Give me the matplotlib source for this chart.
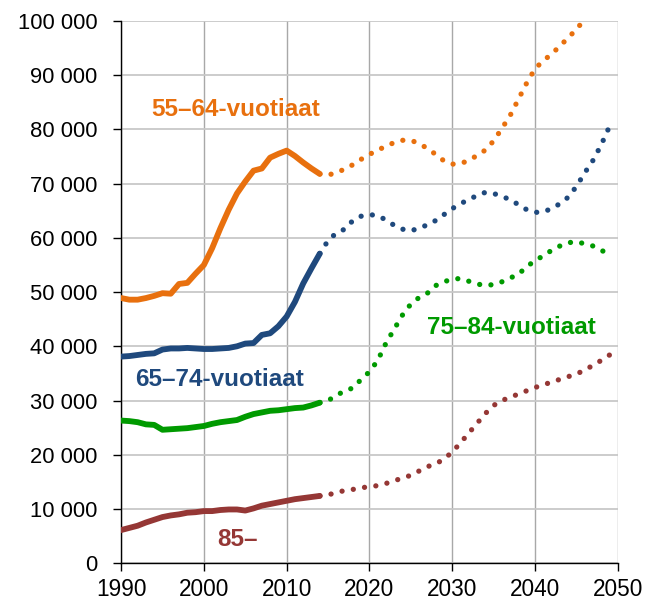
import numpy as np
import matplotlib.pyplot as plt
from matplotlib.ticker import FuncFormatter

plt.rcParams['font.family'] = ['Liberation Sans', 'DejaVu Sans']

vuodet_hist = list(range(1990, 2015))
vuodet_enn = list(range(2014, 2050))

# 55-64-vuotiaat
ika55_hist = [48900, 48600, 48600, 48900, 49300, 49800, 49700, 51500, 51700, 53400,
              55000, 58100, 61800, 65200, 68200, 70400, 72400, 72800, 74800, 75500,
              76100, 75100, 73900, 72800, 71800]
ika55_enn = [71800, 71600, 72000, 72700, 73500, 74500, 75400, 76200, 76900, 77600,
             78000, 78000, 77400, 76500, 75400, 74200, 73600, 73700, 74300, 75200,
             76200, 77900, 80200, 82600, 85600, 88600, 91200, 92700, 93900, 95400,
             96900, 98500, 100300, 102000, 103500, 105000]

# 65-74-vuotiaat
ika65_hist = [38100, 38200, 38400, 38600, 38700, 39400, 39600, 39600, 39700, 39600,
              39500, 39500, 39600, 39700, 40000, 40500, 40600, 42100, 42400, 43700,
              45500, 48200, 51600, 54400, 57100]
ika65_enn = [57100, 59500, 60900, 61600, 63200, 64000, 64300, 64100, 63300, 62300,
             61600, 61300, 61800, 62400, 63200, 64300, 65400, 66300, 67100, 67800,
             68400, 68200, 67600, 67100, 66100, 65200, 64700, 64800, 65400, 66300,
             67500, 69500, 72000, 74300, 77200, 80600]

# 75-84-vuotiaat
ika75_hist = [26300, 26200, 26000, 25600, 25500, 24600, 24700, 24800, 24900, 25100,
              25300, 25700, 26000, 26200, 26400, 27000, 27500, 27800, 28100, 28200,
              28400, 28600, 28700, 29100, 29600]
ika75_enn = [29600, 30000, 30900, 31800, 32300, 33900, 35300, 37400, 40600, 43200,
             45800, 47800, 49000, 49800, 51200, 51900, 52400, 52500, 52000, 51500,
             51200, 51400, 51900, 52600, 53300, 54700, 55800, 56700, 57700, 58500,
             59100, 59300, 58900, 58500, 57700, 57000]

# 85-
ika85_hist = [6100, 6500, 6900, 7500, 8000, 8500, 8800, 9000, 9300, 9400,
              9600, 9600, 9800, 9900, 9900, 9700, 10100, 10600, 10900, 11200,
              11500, 11800, 12000, 12200, 12400]
ika85_enn = [12400, 12600, 13000, 13400, 13600, 13900, 14100, 14300, 14700, 15200,
             15700, 16200, 17000, 17800, 18300, 19200, 20500, 22200, 24000, 25800,
             27600, 29100, 30000, 30600, 31200, 31800, 32400, 32900, 33400, 33900,
             34400, 34900, 35600, 36500, 37400, 38400]

sarjat = [
    ('55–64-vuotiaat', ika55_hist, ika55_enn, '#E8700E', (1993.7, 82500)),
    ('65–74-vuotiaat', ika65_hist, ika65_enn, '#1F497D', (1991.7, 32600)),
    ('75–84-vuotiaat', ika75_hist, ika75_enn, '#009A00', (2027.0, 42300)),
    ('85–', ika85_hist, ika85_enn, '#953735', (2001.6, 3100)),
]

fig = plt.figure(figsize=(6.58, 6.01), dpi=100)
ax = fig.add_axes([0.184, 0.063, 0.755, 0.902])

for nimi, hist, enn, vari, paikka in sarjat:
    ax.plot(vuodet_hist, hist, color=vari, lw=4.2, solid_capstyle='round',
            solid_joinstyle='round', zorder=3)
    ax.plot(vuodet_enn, enn, color=vari, lw=3.8, linestyle=(0, (0.01, 2.15)),
            dash_capstyle='round', zorder=3)
    ax.text(paikka[0], paikka[1], nimi, color=vari, fontsize=17.5,
            fontweight='bold', ha='left', va='baseline', zorder=4)

ax.set_xlim(1990, 2050)
ax.set_ylim(0, 100000)
ax.set_xticks(range(1990, 2051, 10))
ax.set_yticks(range(0, 100001, 10000))
ax.yaxis.set_major_formatter(FuncFormatter(lambda v, p: f'{int(v):,}'.replace(',', ' ')))

ax.grid(axis='y', color='#c8c8c8', lw=1.3)
ax.grid(axis='x', color='#a8a8a8', lw=1.0)
ax.set_axisbelow(True)
for s in ['top', 'right']:
    ax.spines[s].set_visible(False)
ax.spines['left'].set_color('black')
ax.spines['bottom'].set_color('black')
ax.spines['left'].set_linewidth(1.0)
ax.spines['bottom'].set_linewidth(1.0)
ax.tick_params(axis='both', direction='out', length=6, width=1, labelsize=15.8,
               colors='black')
ax.tick_params(axis='y', pad=11)
ax.tick_params(axis='x', labelsize=16.3, pad=5)

fig.savefig('out.png', dpi=100)
